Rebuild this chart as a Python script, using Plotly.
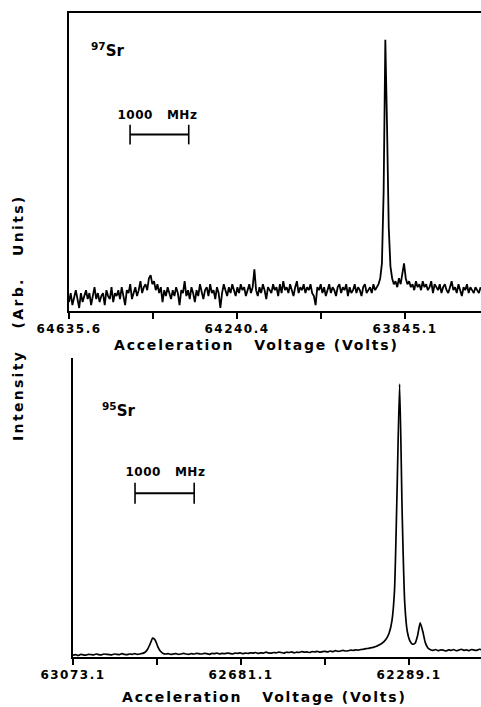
import numpy as np
import plotly.graph_objects as go

# ---------------- data ----------------
# 97Sr scan: channel voltages (start, step) and intensity (arb. units)
SR97_V_START = 64635.6
SR97_V_STEP = 4.0
SR97_INTENSITY = [
    3, 6, 2, 5, 7, 4, 1, 6, 3, 5,
    7, 4, 6, 2, 5, 8, 4, 6, 3, 5,
    6, 2, 7, 5, 4, 8, 3, 6, 5, 7,
    4, 8, 5, 2, 7, 6, 9, 4, 6, 8,
    5, 7, 10, 6, 8, 9, 7, 11, 12, 9,
    10, 7, 9, 6, 8, 3, 7, 5, 8, 6,
    4, 7, 5, 8, 6, 2, 7, 6, 10, 5,
    7, 4, 8, 6, 3, 7, 5, 9, 6, 4,
    7, 8, 5, 9, 6, 7, 4, 8, 6, 1,
    6, 9, 7, 5, 8, 6, 9, 7, 5, 8,
    6, 9, 7, 8, 5, 7, 9, 6, 8, 14,
    7, 5, 8, 6, 9, 7, 4, 8, 7, 6,
    9, 7, 8, 5, 9, 6, 10, 7, 8, 6,
    9, 7, 5, 8, 10, 6, 8, 7, 9, 6,
    8, 7, 9, 6, 5, 2, 8, 7, 9, 6,
    8, 5, 7, 9, 6, 8, 7, 5, 8, 9,
    6, 8, 7, 9, 5, 8, 6, 7, 9, 6,
    8, 7, 5, 8, 9, 6, 7, 8, 6, 9,
    7, 8, 9, 11, 16, 40, 91, 62, 28, 15,
    11, 9, 10, 8, 11, 9, 12, 16, 11, 9,
    10, 8, 9, 7, 10, 8, 9, 7, 10, 8,
    9, 7, 8, 10, 6, 9, 8, 7, 9, 6,
    8, 9, 7, 6, 8, 10, 7, 8, 6, 9,
    7, 5, 8, 7, 9, 6, 8, 7, 6, 8,
    7, 6, 8,
]
SR97_TICKVALS = [64635.6, 64240.4, 63845.1]
SR97_TICKTEXT = ["64635.6", "64240.4", "63845.1"]
SR97_MINOR_TICKS = [64438.0, 64042.75]

# 95Sr scan
SR95_V_START = 63073.1
SR95_V_STEP = 6.0
SR95_INTENSITY = [
    0.6, 0.8, 0.5, 0.9, 0.7, 0.6, 0.9, 0.8, 0.7, 1.0,
    0.8, 0.7, 1.0, 0.9, 0.8, 0.7, 1.0, 0.9, 0.8, 1.1,
    0.9, 0.8, 1.0, 0.9, 1.1, 0.9, 1.0, 1.2, 1.6, 2.6,
    4.4, 6.3, 5.6, 3.4, 1.9, 1.2, 1.0, 1.1, 0.9, 1.0,
    1.1, 0.9, 1.0, 1.2, 1.0, 0.9, 1.1, 1.0, 1.2, 1.1,
    1.0, 1.2, 1.1, 0.9, 1.2, 1.1, 1.3, 1.0, 1.2, 1.1,
    1.3, 1.2, 1.0, 1.3, 1.2, 1.4, 1.1, 1.3, 1.2, 1.4,
    1.3, 1.5, 1.2, 1.4, 1.3, 1.6, 1.4, 1.3, 1.5, 1.4,
    1.6, 1.5, 1.3, 1.6, 1.5, 1.7, 1.4, 1.6, 1.5, 1.8,
    1.6, 1.7, 1.5, 1.8, 1.7, 1.9, 1.6, 1.8, 1.9, 1.7,
    2.0, 1.8, 2.1, 1.9, 2.0, 2.2, 2.0, 2.1, 2.3, 2.2,
    2.4, 2.3, 2.5, 2.6, 2.8, 2.9, 3.1, 3.3, 3.6, 4.0,
    4.5, 5.2, 6.3, 8.2, 12.0, 22.0, 55.0, 91.3, 48.0, 18.0,
    8.5, 5.4, 4.3, 4.6, 7.2, 11.4, 8.6, 4.8, 3.0, 2.4,
    2.2, 2.5, 2.1, 2.4, 2.3, 2.0, 2.4, 2.2, 2.5, 2.1,
    2.3, 2.6, 2.2, 2.4, 2.1, 2.5, 2.3, 2.2, 2.6, 2.4,
]
SR95_TICKVALS = [63073.1, 62681.1, 62289.1]
SR95_TICKTEXT = ["63073.1", "62681.1", "62289.1"]
SR95_MINOR_TICKS = [62877.1, 62485.1]

# frequency scale bar: 1000 MHz corresponds to ~138 V
SCALE_MHZ = 1000
SCALE_VOLTS = 138.0

# ---------------- figure ----------------
W, H = 481, 707
FONT = "DejaVu Sans"


def px(x):
    return x / W


def py(y):
    return 1 - y / H


sr97_v = SR97_V_START - SR97_V_STEP * np.arange(len(SR97_INTENSITY))
sr95_v = SR95_V_START - SR95_V_STEP * np.arange(len(SR95_INTENSITY))

fig = go.Figure()
fig.add_trace(go.Scatter(x=sr97_v, y=SR97_INTENSITY, mode="lines",
                         line=dict(color="black", width=1.8),
                         xaxis="x", yaxis="y", showlegend=False, hoverinfo="skip"))
fig.add_trace(go.Scatter(x=sr95_v, y=SR95_INTENSITY, mode="lines",
                         line=dict(color="black", width=1.7, shape="spline", smoothing=0.6),
                         xaxis="x2", yaxis="y2", showlegend=False, hoverinfo="skip"))

# scale bars (drawn in data units of each panel)
sb_top_start = 64492.0
fig.add_trace(go.Scatter(x=[sb_top_start, sb_top_start - SCALE_VOLTS], y=[59.2, 59.2],
                         mode="lines+markers",
                         line=dict(color="black", width=2),
                         marker=dict(symbol="line-ns", size=14, line=dict(color="black", width=1.6)),
                         xaxis="x", yaxis="y", showlegend=False, hoverinfo="skip"))
sb_bot_start = 62928.4
fig.add_trace(go.Scatter(x=[sb_bot_start, sb_bot_start - SCALE_VOLTS], y=[54.8, 54.8],
                         mode="lines+markers",
                         line=dict(color="black", width=2),
                         marker=dict(symbol="line-ns", size=15, line=dict(color="black", width=1.6)),
                         xaxis="x2", yaxis="y2", showlegend=False, hoverinfo="skip"))

tickfont = dict(family=FONT, size=12, color="black", weight="bold")
xcommon = dict(showline=True, linecolor="black", linewidth=2, ticks="outside",
               ticklen=6, tickwidth=1.5, tickcolor="black", showgrid=False,
               zeroline=False, tickfont=tickfont, automargin=False)
ycommon = dict(showline=True, linecolor="black", linewidth=2, ticks="",
               showticklabels=False, showgrid=False, zeroline=False, range=[0, 100],
               automargin=False)
minor_style = dict(ticks="outside", ticklen=6, tickwidth=1.5, tickcolor="black", showgrid=False)

fig.update_layout(
    width=W, height=H, autosize=False,
    margin=dict(l=0, r=0, t=0, b=0, pad=0),
    paper_bgcolor="white", plot_bgcolor="white",
    xaxis=dict(domain=[px(69), 1], range=[64635.6, 63666.6], anchor="y",
               tickmode="array", tickvals=SR97_TICKVALS, ticktext=SR97_TICKTEXT, mirror=True,
               minor=dict(tickmode="array", tickvals=SR97_MINOR_TICKS, **minor_style),
               **xcommon),
    yaxis=dict(domain=[py(311), py(13)], anchor="x", **ycommon),
    xaxis2=dict(domain=[px(73), 1], range=[63073.1, 62121.2], anchor="y2",
                tickmode="array", tickvals=SR95_TICKVALS, ticktext=SR95_TICKTEXT,
                minor=dict(tickmode="array", tickvals=SR95_MINOR_TICKS, **minor_style),
                **xcommon),
    yaxis2=dict(domain=[py(657), py(358)], anchor="x2", **ycommon),
)

titlefont = dict(family=FONT, size=14, color="black", weight="bold")
lblfont = dict(family=FONT, size=12, color="black", weight="bold")
isofont = dict(family=FONT, size=15, color="black", weight="bold")

ann = [
    dict(text="Acceleration\u00a0\u00a0 Voltage (Volts)", x=px(256), y=py(345), font=titlefont),
    dict(text="Acceleration\u00a0\u00a0 Voltage (Volts)", x=px(264), y=py(697), font=titlefont),
    dict(text="Intensity\u00a0\u00a0 (Arb.\u00a0\u00a0 Units)", x=px(18), y=py(318), font=titlefont,
         textangle=-90),
    dict(text="<sup>97</sup>Sr", x=px(89), y=py(50), font=isofont, xanchor="left"),
    dict(text="<sup>95</sup>Sr", x=px(100), y=py(410), font=isofont, xanchor="left"),
    dict(text="1000\u00a0\u00a0 MHz", x=px(157), y=py(115), font=lblfont),
    dict(text="1000\u00a0\u00a0 MHz", x=px(165), y=py(472), font=lblfont),
]
for a in ann:
    a.update(xref="paper", yref="paper", showarrow=False)
    a.setdefault("xanchor", "center")
    a.setdefault("yanchor", "middle")
fig.update_layout(annotations=ann)

POST = """
document.documentElement.style.margin='0';
document.body.style.margin='0';
document.body.style.padding='0';
document.body.style.overflow='hidden';
var gd = document.getElementById('{plot_id}');
gd.querySelectorAll('.xtick text, .x2tick text').forEach(function (t) { t.style.letterSpacing = '1.5px'; });
gd.querySelectorAll('.annotation-text').forEach(function (t) {
  var s = t.textContent;
  if (s.indexOf('Acceleration') >= 0) { t.style.letterSpacing = '1.8px'; }
  else if (s.indexOf('Intensity') >= 0) { t.style.letterSpacing = '2.3px'; }
  else if (s.indexOf('MHz') >= 0) { t.style.letterSpacing = '0.5px'; }
});
"""

fig.write_html("out.html", post_script=POST,
               config={"displayModeBar": False, "staticPlot": True})
